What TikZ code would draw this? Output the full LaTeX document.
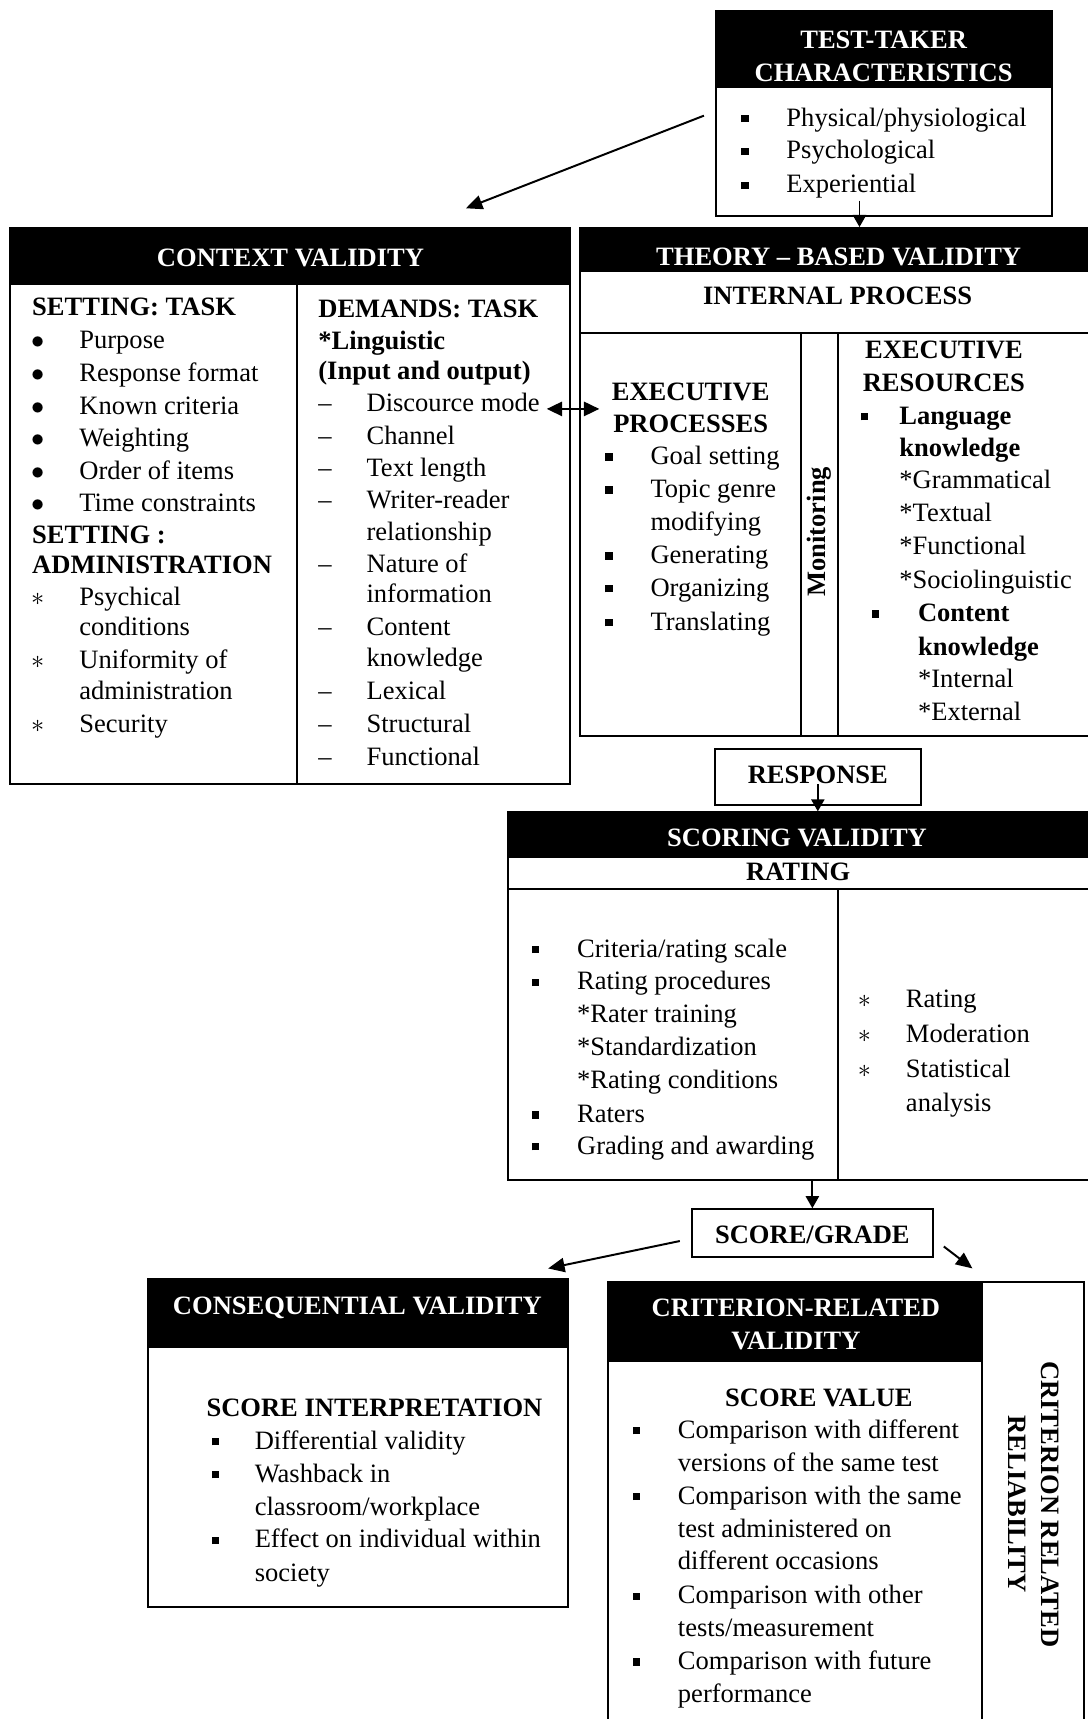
\documentclass[tikz,border=0pt]{standalone}
\usepackage{fontspec}
\setmainfont{Liberation Serif}
\usetikzlibrary{arrows.meta,fit}
% bullet hung left of the item text
\newcommand\bul[2][38pt]{\llap{\makebox[#1]{#2}}}
\newcommand\sqb{\raisebox{1.8pt}{\rule{3.4pt}{3.4pt}}}
\tikzset{
  frame/.style={draw, line width=0.9pt, inner sep=0pt},
  rule/.style={line width=0.9pt},
  txt/.style={anchor=base west, inner sep=0pt},
  btxt/.style={txt, font=\bfseries},
  headtxt/.style={text=white, font=\bfseries, align=center, inner sep=0pt},
  ctxt/.style={font=\bfseries, align=center, inner sep=0pt},
  arr/.style={-{Triangle[length=7.5pt,width=6.5pt]}, line width=0.9pt},
  arrsm/.style={-{Triangle[length=5.5pt,width=6pt]}, line width=0.9pt},
  arrtwo/.style={{Triangle[length=7pt,width=6.5pt]}-{Triangle[length=7pt,width=6.5pt]}, line width=0.9pt},
}
\begin{document}
\begin{tikzpicture}[x=0.5pt, y=-0.5pt]
\fontsize{12.1pt}{15pt}\selectfont
\useasboundingbox (0,0) rectangle (992,1568);

% Drawing box test-taker characteristics
\coordinate (tt-nw) at (653,10);%
\coordinate (tt-se) at (960,197);%
\fill (tt-nw) rectangle (960,80);%
\node [frame, fit=(tt-nw)(tt-se)] (tt) {};%
\node [headtxt] (tt-head) at (806,51) {TEST-TAKER\\CHARACTERISTICS};%
\node [txt] (tt1) at (717,115) {\bul{\sqb}Physical/physiological};%
\node [txt] (tt2) at (717,145) {\bul{\sqb}Psychological};%
\node [txt] (tt3) at (717,176) {\bul{\sqb}Experiential};%

% Drawing box context validity
\coordinate (cv-nw) at (9,208);%
\coordinate (cv-se) at (520,715);%
\fill (cv-nw) rectangle (520,260);%
\node [frame, fit=(cv-nw)(cv-se)] (cv) {};%
\draw [rule] (271,260) -- (271,715);%
\node [headtxt] (cv-head) at (265,235) {CONTEXT VALIDITY};%

% Left column: setting
\node [btxt] (cv-st) at (29,288) {SETTING: TASK};%
\node [txt] (cv1) at (72,318) {\bul{$\bullet$}Purpose};%
\node [txt] (cv2) at (72,348) {\bul{$\bullet$}Response format};%
\node [txt] (cv3) at (72,378) {\bul{$\bullet$}Known criteria};%
\node [txt] (cv4) at (72,407) {\bul{$\bullet$}Weighting};%
\node [txt] (cv5) at (72,437) {\bul{$\bullet$}Order of items};%
\node [txt] (cv6) at (72,467) {\bul{$\bullet$}Time constraints};%
\node [btxt] (cv-sa) at (29,496) {SETTING :};%
\node [btxt] (cv-sb) at (29,523) {ADMINISTRATION};%
\node [txt] (cv7) at (72,552) {\bul{$\ast$}Psychical};%
\node [txt] (cv8) at (72,580) {conditions};%
\node [txt] (cv9) at (72,610) {\bul{$\ast$}Uniformity of};%
\node [txt] (cv10) at (72,638) {administration};%
\node [txt] (cv11) at (72,668) {\bul{$\ast$}Security};%

% Right column: demands
\node [btxt] (cv-dt) at (290,290) {DEMANDS: TASK};%
\node [btxt] (cv-li) at (290,319) {*Linguistic};%
\node [btxt] (cv-io) at (290,346) {(Input and output)};%
\node [txt] (cv12) at (334,375) {\bul{–}Discource mode};%
\node [txt] (cv13) at (334,405) {\bul{–}Channel};%
\node [txt] (cv14) at (334,435) {\bul{–}Text length};%
\node [txt] (cv15) at (334,464) {\bul{–}Writer-reader};%
\node [txt] (cv16) at (334,493) {relationship};%
\node [txt] (cv17) at (334,522) {\bul{–}Nature of};%
\node [txt] (cv18) at (334,550) {information};%
\node [txt] (cv19) at (334,580) {\bul{–}Content};%
\node [txt] (cv20) at (334,608) {knowledge};%
\node [txt] (cv21) at (334,638) {\bul{–}Lexical};%
\node [txt] (cv22) at (334,668) {\bul{–}Structural};%
\node [txt] (cv23) at (334,698) {\bul{–}Functional};%

% Drawing box theory-based validity
\coordinate (tb-nw) at (529,208);%
\coordinate (tb-se) at (1000,671);%
\fill (tb-nw) rectangle (1000,248);%
\node [frame, fit=(tb-nw)(tb-se)] (tb) {};%
\draw [rule] (529,304) -- (1000,304);%
\draw [rule] (731,304) -- (731,671);%
\draw [rule] (764,304) -- (764,671);%
\node [headtxt] (tb-head) at (765,234) {THEORY – BASED VALIDITY};%
\node [ctxt] (tb-ip) at (764,270) {INTERNAL PROCESS};%

% Executive processes
\node [ctxt] (ep) at (630,372) {EXECUTIVE\\PROCESSES};%
\node [txt] (ep1) at (593,424) {\bul{\sqb}Goal setting};%
\node [txt] (ep2) at (593,454) {\bul{\sqb}Topic genre};%
\node [txt] (ep3) at (593,484) {modifying};%
\node [txt] (ep4) at (593,514) {\bul{\sqb}Generating};%
\node [txt] (ep5) at (593,544) {\bul{\sqb}Organizing};%
\node [txt] (ep6) at (593,575) {\bul{\sqb}Translating};%
\node [ctxt, rotate=90] (mon) at (747,485) {Monitoring};%

% Executive resources
\node [ctxt] (er) at (861,334) {EXECUTIVE\\RESOURCES};%
\node [btxt] (er1) at (820,387) {\bul[32pt]{\sqb}Language};%
\node [btxt] (er2) at (820,416) {knowledge};%
\node [txt] (er3) at (820,446) {*Grammatical};%
\node [txt] (er4) at (820,476) {*Textual};%
\node [txt] (er5) at (820,506) {*Functional};%
\node [txt] (er6) at (820,537) {*Sociolinguistic};%
\node [btxt] (er7) at (837,567) {\bul[39pt]{\sqb}Content};%
\node [btxt] (er8) at (837,598) {knowledge};%
\node [txt] (er9) at (837,627) {*Internal};%
\node [txt] (er10) at (837,657) {*External};%

% Drawing box response
\coordinate (rs-nw) at (652,683);%
\coordinate (rs-se) at (840,734);%
\node [frame, fit=(rs-nw)(rs-se)] (rs) {};%
\node [ctxt] (rs-txt) at (746,707) {RESPONSE};%

% Drawing box scoring validity
\coordinate (sv-nw) at (463,741);%
\coordinate (sv-se) at (1000,1076);%
\fill (sv-nw) rectangle (1000,783);%
\node [frame, fit=(sv-nw)(sv-se)] (sv) {};%
\draw [rule] (463,811) -- (1000,811);%
\draw [rule] (764,811) -- (764,1076);%
\node [headtxt] (sv-head) at (727,764) {SCORING VALIDITY};%
\node [ctxt] (sv-rt) at (728,795) {RATING};%
\node [txt] (sv1) at (526,873) {\bul{\sqb}Criteria/rating scale};%
\node [txt] (sv2) at (526,903) {\bul{\sqb}Rating procedures};%
\node [txt] (sv3) at (526,933) {*Rater training};%
\node [txt] (sv4) at (526,963) {*Standardization};%
\node [txt] (sv5) at (526,993) {*Rating conditions};%
\node [txt] (sv6) at (526,1024) {\bul{\sqb}Raters};%
\node [txt] (sv7) at (526,1053) {\bul{\sqb}Grading and awarding};%
\node [txt] (sv8) at (826,919) {\bul{$\ast$}Rating};%
\node [txt] (sv9) at (826,951) {\bul{$\ast$}Moderation};%
\node [txt] (sv10) at (826,983) {\bul{$\ast$}Statistical};%
\node [txt] (sv11) at (826,1014) {analysis};%

% Drawing box score/grade
\coordinate (sg-nw) at (631,1103);%
\coordinate (sg-se) at (851,1147);%
\node [frame, fit=(sg-nw)(sg-se)] (sg) {};%
\node [ctxt] (sg-txt) at (741,1126) {SCORE/GRADE};%

% Drawing box consequential validity
\coordinate (cq-nw) at (135,1167);%
\coordinate (cq-se) at (518,1466);%
\fill (cq-nw) rectangle (518,1230);%
\node [frame, fit=(cq-nw)(cq-se)] (cq) {};%
\node [headtxt] (cq-head) at (326,1193) {CONSEQUENTIAL VALIDITY};%
\node [btxt] (cq-si) at (188,1292) {SCORE INTERPRETATION};%
\node [txt] (cq1) at (232,1322) {\bul[36pt]{\sqb}Differential validity};%
\node [txt] (cq2) at (232,1352) {\bul[36pt]{\sqb}Washback in};%
\node [txt] (cq3) at (232,1382) {classroom/workplace};%
\node [txt] (cq4) at (232,1412) {\bul[36pt]{\sqb}Effect on individual within};%
\node [txt] (cq5) at (232,1443) {society};%

% Drawing box criterion-related validity
\coordinate (cr-nw) at (555,1169);%
\coordinate (cr-se) at (896,1580);%
\fill (cr-nw) rectangle (896,1242);%
\node [frame, fit=(cr-nw)(cr-se)] (cr) {};%
\node [headtxt] (cr-head) at (726,1208) {CRITERION-RELATED\\VALIDITY};%
\node [ctxt] (cr-sv) at (747,1275) {SCORE VALUE};%
\node [txt] (cr1) at (618,1312) {\bul{\sqb}Comparison with different};%
\node [txt] (cr2) at (618,1342) {versions of the same test};%
\node [txt] (cr3) at (618,1372) {\bul{\sqb}Comparison with the same};%
\node [txt] (cr4) at (618,1402) {test administered on};%
\node [txt] (cr5) at (618,1432) {different occasions};%
\node [txt] (cr6) at (618,1463) {\bul{\sqb}Comparison with other};%
\node [txt] (cr7) at (618,1493) {tests/measurement};%
\node [txt] (cr8) at (618,1523) {\bul{\sqb}Comparison with future};%
\node [txt] (cr9) at (618,1553) {performance};%

% Drawing box criterion related reliability
\coordinate (crr-nw) at (896,1169);%
\coordinate (crr-se) at (989,1580);%
\node [frame, fit=(crr-nw)(crr-se)] (crr) {};%
\node [ctxt, rotate=-90] (crr-txt) at (943,1372) {CRITERION RELATED\\RELIABILITY};%

% Drawing arrows
\coordinate (cv-tip) at (425,190);%
\draw [arr] ([xshift=-5pt,yshift=-1pt]tt.west) -- (cv-tip);%
\coordinate (tt-out) at (784,183);%
\draw [arrsm] (tt-out) -- (tt-out |- tb.north);%
\coordinate (dm-out) at ([xshift=3pt,yshift=1pt]cv12.base east);%
\draw [arrtwo, shorten >=5.5pt] (dm-out) -- (dm-out -| ep.west);%
\draw [arrsm] (rs-txt.south) -- (rs-txt.south |- sv.north);%
\draw [arrsm] (sg.north |- sv.south) -- (sg.north);%
\coordinate (cq-tip) at (500,1157);%
\draw [arr] ([xshift=-5pt,yshift=-3.5pt]sg.west) -- (cq-tip);%
\coordinate (crr-tip) at (887,1157);%
\draw [arr] ([xshift=4.5pt,yshift=-6pt]sg.east) -- (crr-tip);%
\end{tikzpicture}
\end{document}
